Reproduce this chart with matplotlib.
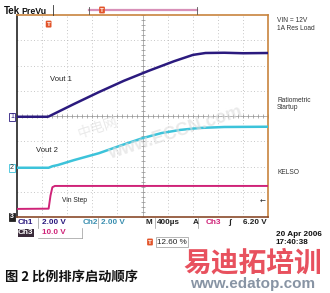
import numpy as np
import matplotlib
matplotlib.use("Agg")
from matplotlib import pyplot as plt
import matplotlib.transforms as mtransforms

# ======== Data ========
# time in microseconds, trigger at t=0, 400 us/div, 12.6 % pre-trigger
T_PER_DIV = 400
PRETRIG = 0.126
t_start = -PRETRIG * 10 * T_PER_DIV
t_end = t_start + 10 * T_PER_DIV

vout1_t = [t_start, -20, 0, 400, 800, 1200, 1600, 2000, 2300, 2500, 2800, 3100, t_end]
vout1_v = [0.0, 0.0, 0.02, 1.0, 1.95, 2.85, 3.65, 4.4, 4.9, 5.05, 5.07, 5.03, 5.05]

vout2_t = [t_start, 0, 60, 150, 400, 800, 1200, 1500, 1800, 2100, 2400, 2800, t_end]
vout2_v = [0.0, 0.0, 0.12, 0.22, 0.6, 1.15, 1.85, 2.35, 2.75, 3.0, 3.15, 3.23, 3.25]

vin_t = [t_start, 0, 30, 60, 100, t_end]
vin_v = [3.2, 3.3, 8.5, 11.8, 12.3, 12.3]

# channel settings: volts/div and ground position (div from bottom)
ch_scale = {"1": 2.0, "2": 2.0, "3": 10.0}
ch_ground = {"1": 3.97, "2": 1.95, "3": 0.0}
trig_level = 6.20

C_CH1 = "#2b1a7e"
C_CH2 = "#3cc3da"
C_CH3 = "#cf2378"
C_FRAME = "#c8843e"
FONT = ["Liberation Sans", "DejaVu Sans"]
CJK = ["Noto Sans CJK SC", "DejaVu Sans"]

def to_div(v, ch):
    return ch_ground[ch] + np.asarray(v) / ch_scale[ch]

# ======== Figure ========
fig = plt.figure(figsize=(3.30, 2.93), dpi=100)
W, H = 330.0, 293.0

def fx(px):
    return px / W

def fy(py):
    return 1 - py / H

ax = fig.add_axes([fx(17), fy(217), fx(268) - fx(17), fy(15) - fy(217)])
ax.set_xlim(t_start, t_end)
ax.set_ylim(0, 8)

# graticule
for k in range(1, 10):
    ax.axvline(t_start + k * T_PER_DIV, color="#b4b4b4", lw=0.6, ls=(0, (1, 3)), zorder=0)
for k in range(1, 8):
    ax.axhline(k, color="#b4b4b4", lw=0.6, ls=(0, (1, 3)), zorder=0)
t_mid = t_start + 5 * T_PER_DIV
ax.axvline(t_mid, color="#a8a8a8", lw=0.6, zorder=0)
ax.axhline(4, color="#a8a8a8", lw=0.6, zorder=0)
minor_t = t_start + np.arange(0, 50.01) * T_PER_DIV / 5
minor_y = np.arange(0, 40.01) / 5
ax.plot(minor_t, np.full_like(minor_t, 4), ls="none", marker="|", ms=3, mew=0.5, color="#909090", zorder=0)
ax.plot(np.full_like(minor_y, t_mid), minor_y, ls="none", marker="_", ms=3, mew=0.5, color="#909090", zorder=0)

ax.set_xticks([])
ax.set_yticks([])
for side in ["top", "right", "bottom"]:
    ax.spines[side].set_color(C_FRAME)
    ax.spines[side].set_linewidth(1.2)
ax.spines["left"].set_color("#222222")
ax.spines["left"].set_linewidth(1.2)
ax.spines["bottom"].set_color("#8a4a2a")

# traces
ax.plot(vin_t, to_div(vin_v, "3"), color=C_CH3, lw=1.4, zorder=3)
ax.plot(vout2_t, to_div(vout2_v, "2"), color=C_CH2, lw=1.8, zorder=3)
ax.plot(vout1_t, to_div(vout1_v, "1"), color=C_CH1, lw=1.8, zorder=3)

# labels inside the screen
ax.text(0.13, 0.68, "Vout 1", transform=ax.transAxes, family=FONT, fontsize=5.5, color="#222222", va="center")
ax.text(0.075, 0.33, "Vout 2", transform=ax.transAxes, family=FONT, fontsize=5.5, color="#222222", va="center")
ax.text(0.18, 0.08, "Vin Step", transform=ax.transAxes, family=FONT, fontsize=4.8, color="#222222", va="center")

# ground markers
gtr = mtransforms.blended_transform_factory(ax.transAxes, ax.transData)
ax.text(-0.012, to_div(0, "1"), "1", transform=gtr, family=FONT, fontsize=5, ha="right", va="center", color=C_CH1,
        bbox=dict(boxstyle="square,pad=0.1", fc="white", ec=C_CH1, lw=0.6), clip_on=False)
ax.text(-0.012, to_div(0, "2"), "2", transform=gtr, family=FONT, fontsize=5, ha="right", va="center", color="#333333",
        bbox=dict(boxstyle="square,pad=0.1", fc="white", ec=C_CH2, lw=0.6), clip_on=False)
ax.text(-0.012, to_div(0, "3"), "3", transform=gtr, family=FONT, fontsize=5, ha="right", va="center", color="white",
        fontweight="bold", bbox=dict(boxstyle="square,pad=0.1", fc="#222222", ec="#222222", lw=0.6), clip_on=False)

# trigger position and level markers
ttr = mtransforms.blended_transform_factory(ax.transData, ax.transAxes)
ax.text(0, 0.955, "T", transform=ttr, family=FONT, fontsize=4.5, ha="center", va="center", color="white",
        fontweight="bold", bbox=dict(boxstyle="round,pad=0.15", fc="#e2542a", ec="none"), clip_on=False, zorder=5)
ax.text(0.99, to_div(trig_level, "3"), "\u2190", transform=gtr, fontsize=5, ha="right", va="center",
        color="#222222", clip_on=False)

# ======== Top bar ========
fig.text(fx(4), fy(11), "Tek", family=FONT, fontsize=7, fontweight="bold", va="center", color="#111111")
fig.text(fx(21), fy(11), "PreVu", family=FONT, fontsize=6.3, fontweight="bold", va="center", color="#111111")
fig.add_artist(plt.Line2D([fx(53), fx(53)], [fy(5), fy(15)], color="#333333", lw=0.6))
fig.add_artist(plt.Line2D([fx(89), fx(197)], [fy(10), fy(10)], color="#d890b8", lw=1.6))
for bx in (89, 197):
    fig.add_artist(plt.Line2D([fx(bx), fx(bx)], [fy(7), fy(14)], color="#555555", lw=0.6))
fig.text(fx(102), fy(10), "T", family=FONT, fontsize=4.5, ha="center", va="center", color="white", fontweight="bold",
         bbox=dict(boxstyle="round,pad=0.15", fc="#e2542a", ec="none"))

# ======== Right side notes ========
for txt, py in [("VIN = 12V", 20), ("1A Res Load", 29), ("Ratiometric", 100), ("Startup", 108), ("KELSO", 173)]:
    fig.text(fx(277), fy(py), txt, family=FONT, fontsize=4.8, va="center", color="#333333")

# ======== Bottom readout ========
rd = dict(family=FONT, fontsize=5.9, fontweight="bold", va="center")
fig.text(fx(18), fy(223), "Ch1", color="#2b1a7e", **rd)
fig.text(fx(42), fy(223), "2.00 V", color="#2b1a7e", **rd)
fig.text(fx(83), fy(223), "Ch2", color="#3a8fb0", **rd)
fig.text(fx(101), fy(223), "2.00 V", color="#3a8fb0", **rd)
fig.text(fx(146), fy(223), "M", color="#222222", **rd)
fig.text(fx(157), fy(223), "400\u00b5s", color="#222222", **rd)
fig.text(fx(193), fy(223), "A", color="#222222", **rd)
fig.text(fx(206), fy(223), "Ch3", color=C_CH3, **rd)
fig.text(fx(228), fy(223), "\u0283", color="#222222", **rd)
fig.text(fx(267), fy(223), "6.20 V", color="#222222", ha="right", family=FONT, fontsize=5.9,
         fontweight="bold", va="center")
fig.text(fx(18), fy(233), "Ch3", color="white", family=FONT, fontsize=5.9, fontweight="bold", va="center",
         bbox=dict(boxstyle="square,pad=0.05", fc="#3a2a3a", ec="none"))
fig.text(fx(42), fy(233), "10.0 V", color=C_CH3, **rd)
# readout box separators
vlines = [38, 98, 155, 198]
for vx in vlines:
    fig.add_artist(plt.Line2D([fx(vx), fx(vx)], [fy(218), fy(228)], color="#999999", lw=0.5))
fig.add_artist(plt.Line2D([fx(38), fx(82)], [fy(238), fy(238)], color="#999999", lw=0.5))
fig.add_artist(plt.Line2D([fx(82), fx(82)], [fy(228), fy(238)], color="#999999", lw=0.5))
fig.text(fx(150), fy(242), "T", family=FONT, fontsize=4.5, ha="center", va="center", color="white",
         fontweight="bold", bbox=dict(boxstyle="round,pad=0.15", fc="#e2542a", ec="none"))
fig.text(fx(157), fy(242), "12.60 %", color="#222222", family=FONT, fontsize=5.9, va="center",
         bbox=dict(boxstyle="square,pad=0.15", fc="white", ec="#999999", lw=0.5))
fig.text(fx(276), fy(235), "20 Apr 2006", color="#111111", **rd)
fig.text(fx(276), fy(243), "17:40:38", color="#111111", **rd)

# ======== Watermarks and caption ========
fig.text(fx(98), fy(128), "\u4e2d\u7535\u7f51", family=CJK, fontsize=10, color="#dcdcdc", alpha=0.6,
         rotation=18, ha="center", va="center", zorder=10)
fig.text(fx(175), fy(133), "www.ECCN.com", family=FONT, fontsize=13, fontweight="bold", color="#dcdcdc",
         alpha=0.6, rotation=18, ha="center", va="center", zorder=10)
fig.text(fx(253), fy(263), "\u6613\u8fea\u62d3\u57f9\u8bad", family=CJK,
         fontsize=20, fontweight="bold", color="#e8515e", ha="center", va="center")
fig.text(fx(253), fy(284), "www.edatop.com", family=FONT, fontsize=11, fontweight="bold", color="#8894a4",
         ha="center", va="center")
fig.text(fx(5), fy(277), "\u56fe 2 \u6bd4\u4f8b\u6392\u5e8f\u542f\u52a8\u987a\u5e8f", family=CJK,
         fontsize=9.5, fontweight="bold", color="#111111", va="center")

fig.savefig("out.png", dpi=100, facecolor="white")
